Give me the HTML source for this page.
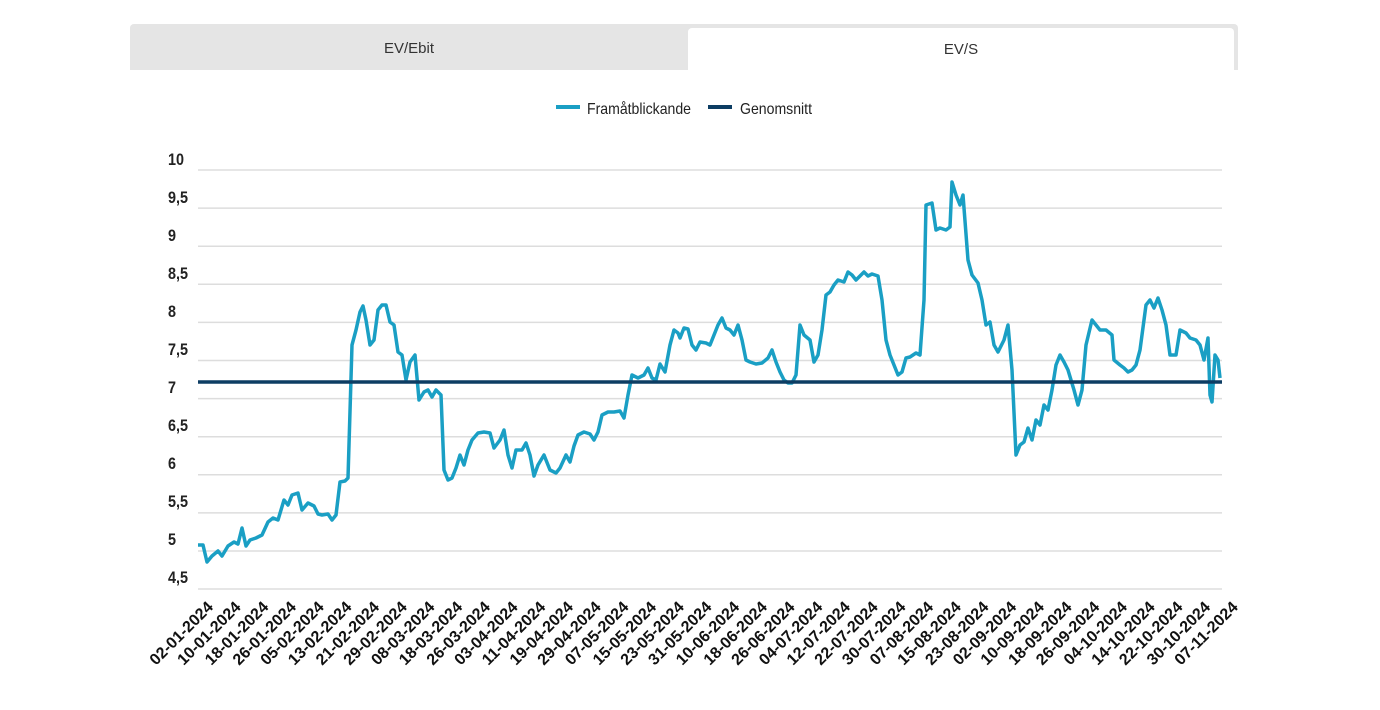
<!DOCTYPE html>
<html><head><meta charset="utf-8"><style>
body{margin:0;background:#fff;width:1380px;height:710px;overflow:hidden;font-family:"Liberation Sans",sans-serif}
.tabs{position:absolute;left:130px;top:24px;width:1108px;height:46px;background:#e5e5e5;border-radius:4px 4px 0 0}
.t1{position:absolute;left:0;top:0;width:558px;height:46px;line-height:50px;text-align:center;font-size:15px;color:#333}
.t2{position:absolute;left:558px;top:4px;width:546px;height:42px;background:#fff;border-radius:4px 4px 0 0;line-height:44px;text-align:center;font-size:15px;color:#333}
svg{position:absolute;left:0;top:0}
</style></head><body>
<div class="tabs"><div class="t1">EV/Ebit</div><div class="t2">EV/S</div></div>
<svg width="1380" height="710" xmlns="http://www.w3.org/2000/svg">
<g stroke="#ddd" stroke-width="1.5">
<line x1="198" x2="1222" y1="170" y2="170"/><line x1="198" x2="1222" y1="208.1" y2="208.1"/><line x1="198" x2="1222" y1="246.2" y2="246.2"/><line x1="198" x2="1222" y1="284.3" y2="284.3"/><line x1="198" x2="1222" y1="322.4" y2="322.4"/><line x1="198" x2="1222" y1="360.5" y2="360.5"/><line x1="198" x2="1222" y1="398.6" y2="398.6"/><line x1="198" x2="1222" y1="436.7" y2="436.7"/><line x1="198" x2="1222" y1="474.8" y2="474.8"/><line x1="198" x2="1222" y1="512.9" y2="512.9"/><line x1="198" x2="1222" y1="551" y2="551"/><line x1="198" x2="1222" y1="589" y2="589"/>
</g>
<g font-family="Liberation Sans, sans-serif" font-weight="bold" font-size="17" fill="#222">
<text x="168" y="165" textLength="16" lengthAdjust="spacingAndGlyphs">10</text>
<text x="168" y="203" textLength="20" lengthAdjust="spacingAndGlyphs">9,5</text>
<text x="168" y="241" textLength="8" lengthAdjust="spacingAndGlyphs">9</text>
<text x="168" y="279" textLength="20" lengthAdjust="spacingAndGlyphs">8,5</text>
<text x="168" y="317" textLength="8" lengthAdjust="spacingAndGlyphs">8</text>
<text x="168" y="355" textLength="20" lengthAdjust="spacingAndGlyphs">7,5</text>
<text x="168" y="393" textLength="8" lengthAdjust="spacingAndGlyphs">7</text>
<text x="168" y="431" textLength="20" lengthAdjust="spacingAndGlyphs">6,5</text>
<text x="168" y="469" textLength="8" lengthAdjust="spacingAndGlyphs">6</text>
<text x="168" y="507" textLength="20" lengthAdjust="spacingAndGlyphs">5,5</text>
<text x="168" y="545" textLength="8" lengthAdjust="spacingAndGlyphs">5</text>
<text x="168" y="583" textLength="20" lengthAdjust="spacingAndGlyphs">4,5</text>
</g>
<g font-family="Liberation Sans, sans-serif" font-size="16" fill="#222">
<line x1="556" x2="580" y1="107" y2="107" stroke="#1a9fc4" stroke-width="4"/>
<text x="587" y="114" textLength="104" lengthAdjust="spacingAndGlyphs">Framåtblickande</text>
<line x1="708" x2="732" y1="107" y2="107" stroke="#0d3d63" stroke-width="4"/>
<text x="740" y="114" textLength="72" lengthAdjust="spacingAndGlyphs">Genomsnitt</text>
</g>
<polyline fill="none" stroke="#1a9fc4" stroke-width="3.5" stroke-linejoin="round" points="198,545 203,545 207,562 212,556 218,551 222,556 228,546 234,542 238,544 242,528 246,546 250,540 256,538 262,535 268,522 273,518 278,520 284,500 288,505 292,495 298,493 302,510 308,503 314,506 318,514 322,515 328,514 332,520 336,515 340,482 345,481 348,478 352,345 356,330 360,312 363,306 366,320 370,345 374,340 378,310 382,305 386,305 390,322 394,325 398,352 402,355 406,380 410,362 415,355 419,400 424,392 428,390 432,397 436,390 441,395 444,470 448,480 452,478 456,468 460,455 464,465 468,450 472,440 478,433 484,432 490,433 494,448 500,440 504,430 508,455 512,468 516,450 522,450 526,443 530,455 534,476 538,465 544,455 550,470 556,473 560,468 566,455 570,462 574,446 578,435 584,432 590,434 594,440 598,432 602,415 608,412 614,412 620,411 624,418 628,395 632,375 638,378 644,375 648,368 652,378 656,380 660,364 665,372 670,345 674,330 678,333 680,338 684,328 688,329 692,345 696,350 700,342 706,343 710,345 714,335 718,325 722,318 726,328 730,330 734,335 738,325 742,340 746,360 750,362 756,364 762,363 768,358 772,350 776,362 780,372 784,380 788,383 792,383 796,375 800,325 804,335 810,340 814,362 818,355 822,330 826,295 830,292 834,285 838,280 844,282 848,272 852,275 856,280 860,276 864,272 868,276 872,274 878,276 882,300 886,340 890,355 894,365 898,375 902,372 906,358 910,357 916,353 920,355 924,300 926,205 932,203 936,230 940,228 946,230 950,227 952,182 956,195 960,205 963,195 968,260 972,275 978,283 982,300 986,325 990,322 994,345 998,352 1004,340 1008,325 1012,370 1016,455 1020,445 1024,442 1028,428 1032,440 1036,420 1040,425 1044,405 1048,410 1052,390 1056,365 1060,355 1064,362 1068,370 1074,390 1078,405 1082,390 1086,345 1092,320 1096,325 1100,330 1106,330 1112,335 1114,360 1120,365 1124,368 1128,372 1132,370 1136,365 1140,350 1146,305 1150,300 1154,308 1158,298 1162,310 1166,325 1170,355 1176,355 1180,330 1186,333 1190,338 1196,340 1200,345 1204,360 1208,338 1210,395 1212,402 1215,355 1218,360 1220,378"/>
<line x1="198" x2="1222" y1="382" y2="382" stroke="#0d3d63" stroke-width="3.5"/>
<g font-family="Liberation Sans, sans-serif" font-weight="bold" font-size="16" fill="#111" text-anchor="end">
<text x="214" y="608" transform="rotate(-45 214 608)" textLength="82" lengthAdjust="spacingAndGlyphs">02-01-2024</text>
<text x="241.7" y="608" transform="rotate(-45 241.7 608)" textLength="82" lengthAdjust="spacingAndGlyphs">10-01-2024</text>
<text x="269.4" y="608" transform="rotate(-45 269.4 608)" textLength="82" lengthAdjust="spacingAndGlyphs">18-01-2024</text>
<text x="297.1" y="608" transform="rotate(-45 297.1 608)" textLength="82" lengthAdjust="spacingAndGlyphs">26-01-2024</text>
<text x="324.8" y="608" transform="rotate(-45 324.8 608)" textLength="82" lengthAdjust="spacingAndGlyphs">05-02-2024</text>
<text x="352.5" y="608" transform="rotate(-45 352.5 608)" textLength="82" lengthAdjust="spacingAndGlyphs">13-02-2024</text>
<text x="380.2" y="608" transform="rotate(-45 380.2 608)" textLength="82" lengthAdjust="spacingAndGlyphs">21-02-2024</text>
<text x="407.9" y="608" transform="rotate(-45 407.9 608)" textLength="82" lengthAdjust="spacingAndGlyphs">29-02-2024</text>
<text x="435.6" y="608" transform="rotate(-45 435.6 608)" textLength="82" lengthAdjust="spacingAndGlyphs">08-03-2024</text>
<text x="463.3" y="608" transform="rotate(-45 463.3 608)" textLength="82" lengthAdjust="spacingAndGlyphs">18-03-2024</text>
<text x="491" y="608" transform="rotate(-45 491 608)" textLength="82" lengthAdjust="spacingAndGlyphs">26-03-2024</text>
<text x="518.7" y="608" transform="rotate(-45 518.7 608)" textLength="82" lengthAdjust="spacingAndGlyphs">03-04-2024</text>
<text x="546.4" y="608" transform="rotate(-45 546.4 608)" textLength="82" lengthAdjust="spacingAndGlyphs">11-04-2024</text>
<text x="574.1" y="608" transform="rotate(-45 574.1 608)" textLength="82" lengthAdjust="spacingAndGlyphs">19-04-2024</text>
<text x="601.8" y="608" transform="rotate(-45 601.8 608)" textLength="82" lengthAdjust="spacingAndGlyphs">29-04-2024</text>
<text x="629.5" y="608" transform="rotate(-45 629.5 608)" textLength="82" lengthAdjust="spacingAndGlyphs">07-05-2024</text>
<text x="657.2" y="608" transform="rotate(-45 657.2 608)" textLength="82" lengthAdjust="spacingAndGlyphs">15-05-2024</text>
<text x="684.9" y="608" transform="rotate(-45 684.9 608)" textLength="82" lengthAdjust="spacingAndGlyphs">23-05-2024</text>
<text x="712.6" y="608" transform="rotate(-45 712.6 608)" textLength="82" lengthAdjust="spacingAndGlyphs">31-05-2024</text>
<text x="740.3" y="608" transform="rotate(-45 740.3 608)" textLength="82" lengthAdjust="spacingAndGlyphs">10-06-2024</text>
<text x="768" y="608" transform="rotate(-45 768 608)" textLength="82" lengthAdjust="spacingAndGlyphs">18-06-2024</text>
<text x="795.7" y="608" transform="rotate(-45 795.7 608)" textLength="82" lengthAdjust="spacingAndGlyphs">26-06-2024</text>
<text x="823.4" y="608" transform="rotate(-45 823.4 608)" textLength="82" lengthAdjust="spacingAndGlyphs">04-07-2024</text>
<text x="851.1" y="608" transform="rotate(-45 851.1 608)" textLength="82" lengthAdjust="spacingAndGlyphs">12-07-2024</text>
<text x="878.8" y="608" transform="rotate(-45 878.8 608)" textLength="82" lengthAdjust="spacingAndGlyphs">22-07-2024</text>
<text x="906.5" y="608" transform="rotate(-45 906.5 608)" textLength="82" lengthAdjust="spacingAndGlyphs">30-07-2024</text>
<text x="934.2" y="608" transform="rotate(-45 934.2 608)" textLength="82" lengthAdjust="spacingAndGlyphs">07-08-2024</text>
<text x="961.9" y="608" transform="rotate(-45 961.9 608)" textLength="82" lengthAdjust="spacingAndGlyphs">15-08-2024</text>
<text x="989.6" y="608" transform="rotate(-45 989.6 608)" textLength="82" lengthAdjust="spacingAndGlyphs">23-08-2024</text>
<text x="1017.3" y="608" transform="rotate(-45 1017.3 608)" textLength="82" lengthAdjust="spacingAndGlyphs">02-09-2024</text>
<text x="1045" y="608" transform="rotate(-45 1045 608)" textLength="82" lengthAdjust="spacingAndGlyphs">10-09-2024</text>
<text x="1072.7" y="608" transform="rotate(-45 1072.7 608)" textLength="82" lengthAdjust="spacingAndGlyphs">18-09-2024</text>
<text x="1100.4" y="608" transform="rotate(-45 1100.4 608)" textLength="82" lengthAdjust="spacingAndGlyphs">26-09-2024</text>
<text x="1128.1" y="608" transform="rotate(-45 1128.1 608)" textLength="82" lengthAdjust="spacingAndGlyphs">04-10-2024</text>
<text x="1155.8" y="608" transform="rotate(-45 1155.8 608)" textLength="82" lengthAdjust="spacingAndGlyphs">14-10-2024</text>
<text x="1183.5" y="608" transform="rotate(-45 1183.5 608)" textLength="82" lengthAdjust="spacingAndGlyphs">22-10-2024</text>
<text x="1211.2" y="608" transform="rotate(-45 1211.2 608)" textLength="82" lengthAdjust="spacingAndGlyphs">30-10-2024</text>
<text x="1238.9" y="608" transform="rotate(-45 1238.9 608)" textLength="82" lengthAdjust="spacingAndGlyphs">07-11-2024</text>
</g>
</svg>
</body></html>
